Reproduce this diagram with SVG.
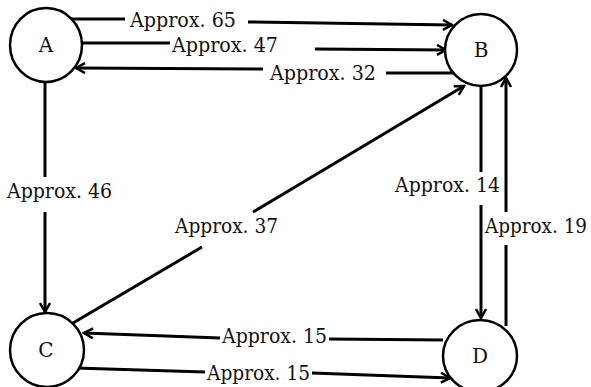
<svg xmlns="http://www.w3.org/2000/svg" width="591" height="387" viewBox="0 0 591 387">
<style>
.node{fill:#fff;stroke:#000;stroke-width:2.5}
.edge{fill:none;stroke:#000;stroke-width:3;marker-end:url(#arr)}
.nl{text-anchor:middle}
text{font-family:"DejaVu Serif","Liberation Serif",serif;font-size:20px;fill:#111}
</style>
<defs>
<marker id="arr" viewBox="0 0 12 12" refX="10" refY="6" markerWidth="12" markerHeight="12" markerUnits="userSpaceOnUse" orient="auto">
<path d="M1,1 L10,6 L1,11" fill="none" stroke="#000" stroke-width="2.5"/>
</marker>
</defs>
<rect width="591" height="387" fill="#fff"/>
<g id="connectors">
<path class="edge" d="M71,19 L125,19 M248,22 L452,25"/>
<path class="edge" d="M82,43 L170,43 M315,49 L446,50"/>
<path class="edge" d="M453,73 L386,73 M263,69 L76,68"/>
<path class="edge" d="M45,82 L45,177 M45,212 L45,312"/>
<path class="edge" d="M73,323 L202,247 M253,212 L464,86"/>
<path class="edge" d="M481,86 L481,172 M481,205 L481,318"/>
<path class="edge" d="M506,326 L506,245 M506,212 L506,78"/>
<path class="edge" d="M443,340 L329,339 M220,338 L84,333"/>
<path class="edge" d="M75,368 L205,372 M312,373 L450,378"/>
</g>
<g id="labels">
<text x="130" y="27" textLength="106" lengthAdjust="spacingAndGlyphs">Approx. 65</text>
<text x="172" y="52" textLength="106" lengthAdjust="spacingAndGlyphs">Approx. 47</text>
<text x="270" y="80" textLength="106" lengthAdjust="spacingAndGlyphs">Approx. 32</text>
<text x="7" y="198" textLength="105" lengthAdjust="spacingAndGlyphs">Approx. 46</text>
<text x="175" y="233" textLength="103" lengthAdjust="spacingAndGlyphs">Approx. 37</text>
<text x="395" y="192" textLength="105" lengthAdjust="spacingAndGlyphs">Approx. 14</text>
<text x="485" y="233" font-size="19" textLength="102" lengthAdjust="spacingAndGlyphs">Approx. 19</text>
<text x="222" y="343" textLength="105" lengthAdjust="spacingAndGlyphs">Approx. 15</text>
<text x="207" y="380" textLength="103" lengthAdjust="spacingAndGlyphs">Approx. 15</text>
</g>
<g id="A"><ellipse class="node" cx="46" cy="45" rx="36" ry="37"/><text class="nl" x="46" y="52">A</text></g>
<g id="B"><ellipse class="node" cx="481" cy="50" rx="36" ry="36"/><text class="nl" x="481" y="57">B</text></g>
<g id="C"><ellipse class="node" cx="47" cy="350" rx="37" ry="37"/><text class="nl" x="46" y="357">C</text></g>
<g id="D"><ellipse class="node" cx="480" cy="356" rx="37" ry="36"/><text class="nl" x="480" y="363">D</text></g>
</svg>
